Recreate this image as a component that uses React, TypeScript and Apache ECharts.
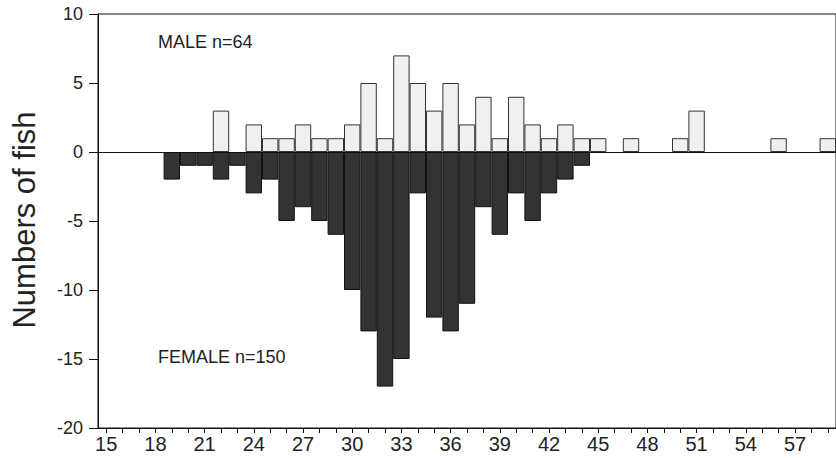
import React, { useEffect, useRef } from "react";
import * as echarts from "echarts";

const lengths = [
  "15", "16", "17", "18", "19", "20", "21", "22", "23", "24", "25", "26", "27", "28", "29",
  "30", "31", "32", "33", "34", "35", "36", "37", "38", "39", "40", "41", "42", "43", "44",
  "45", "46", "47", "48", "49", "50", "51", "52", "53", "54", "55", "56", "57", "58", "59",
];

const male = [
  0, 0, 0, 0, 0, 0, 0, 3, 0, 2, 1, 1, 2, 1, 1,
  2, 5, 1, 7, 5, 3, 5, 2, 4, 1, 4, 2, 1, 2, 1,
  1, 0, 1, 0, 0, 1, 3, 0, 0, 0, 0, 1, 0, 0, 1,
];

const female = [
  0, 0, 0, 0, -2, -1, -1, -2, -1, -3, -2, -5, -4, -5, -6,
  -10, -13, -17, -15, -3, -12, -13, -11, -4, -6, -3, -5, -3, -2, -1,
  0, 0, 0, 0, 0, 0, 0, 0, 0, 0, 0, 0, 0, 0, 0,
];

const yTicks = { min: -20, max: 10, interval: 5 };
const maleLabel = "MALE n=64";
const femaleLabel = "FEMALE n=150";
const yTitle = "Numbers of fish";

const FONT = "'Liberation Sans', Arial, sans-serif";

export default function App() {
  const ref = useRef<HTMLDivElement>(null);
  useEffect(() => {
    if (!ref.current) return;
    const chart = echarts.init(ref.current, undefined, { renderer: "svg" });
    const nz = (v: number) => (v === 0 ? "-" : v);
    chart.setOption({
      animation: false,
      textStyle: { fontFamily: FONT },
      grid: {
        left: 98,
        top: 14,
        right: -3,
        bottom: 30,
        show: true,
        borderColor: "#111",
        borderWidth: 1,
      },
      xAxis: {
        type: "category",
        data: lengths,
        position: "bottom",
        axisLine: { onZero: false, lineStyle: { color: "#111", width: 1 } },
        axisTick: { show: true, interval: 0, alignWithLabel: true, length: 5, lineStyle: { color: "#111" } },
        axisLabel: { interval: 2, fontSize: 20, color: "#222", margin: 6, fontFamily: FONT },
        splitLine: { show: false },
      },
      yAxis: {
        type: "value",
        min: yTicks.min,
        max: yTicks.max,
        interval: yTicks.interval,
        axisLine: { show: true, lineStyle: { color: "#111", width: 1 } },
        axisTick: { show: true, length: 9, lineStyle: { color: "#111" } },
        axisLabel: { fontSize: 18, color: "#222", margin: 15, fontFamily: FONT },
        splitLine: { show: false },
      },
      series: [
        {
          type: "bar",
          name: "Male",
          data: male.map(nz),
          barWidth: "100%",
          barGap: "-100%",
          itemStyle: { color: "#f0f0f0", borderColor: "#333", borderWidth: 1 },
          markLine: {
            silent: true,
            symbol: "none",
            label: { show: false },
            lineStyle: { color: "#111", type: "solid", width: 1 },
            data: [{ yAxis: 0 }],
          },
        },
        {
          type: "bar",
          name: "Female",
          data: female.map(nz),
          barWidth: "100%",
          barGap: "-100%",
          itemStyle: { color: "#333333", borderColor: "#111", borderWidth: 1 },
        },
      ],
      graphic: [
        {
          type: "text",
          left: 158,
          top: 33,
          style: { text: maleLabel, fontSize: 18, fill: "#222", fontFamily: FONT },
        },
        {
          type: "text",
          left: 158,
          top: 348,
          style: { text: femaleLabel, fontSize: 18, fill: "#222", fontFamily: FONT },
        },
        {
          type: "text",
          x: 24,
          y: 220,
          rotation: Math.PI / 2,
          style: {
            text: yTitle,
            fontSize: 31,
            fill: "#222",
            fontFamily: FONT,
            align: "center",
            verticalAlign: "middle",
          },
        },
      ],
    });
    return () => chart.dispose();
  }, []);
  return (
    <div
      ref={ref}
      style={{ position: "fixed", left: 0, top: 0, width: 836, height: 458, background: "#fff" }}
    />
  );
}
